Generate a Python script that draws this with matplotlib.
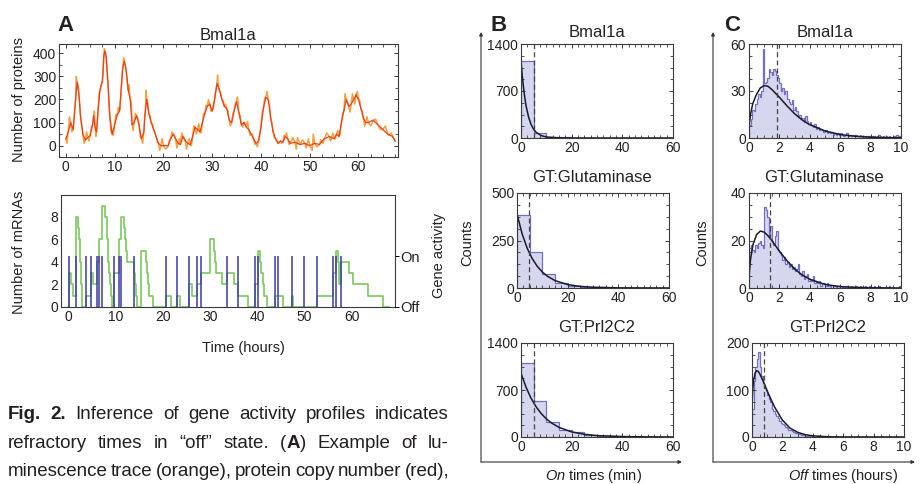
import matplotlib
matplotlib.use("Agg")
import matplotlib.pyplot as plt
import matplotlib.transforms as mtransforms
from matplotlib.patches import FancyArrowPatch
from matplotlib.ticker import MultipleLocator
import numpy as np

W, H = 923, 484
plt.rcParams['font.family'] = ['Liberation Sans', 'DejaVu Sans']
plt.rcParams['mathtext.fontset'] = 'custom'
plt.rcParams['mathtext.it'] = 'Liberation Sans:italic'
plt.rcParams['mathtext.rm'] = 'Liberation Sans'

# ---- panel A: protein trace (red = smoothed, orange = luminescence) ----
red_t = [0, 0.5, 1.0, 1.5, 2.0, 2.3, 2.7, 3.0, 3.5, 4.0, 4.5, 5.0, 5.5, 5.7, 6.0, 6.3, 6.6, 7.0,
         7.5, 7.8, 8.0, 8.3, 8.7, 9.0, 9.5, 10.0, 10.5, 11.0, 11.3, 11.7, 12.0, 12.4, 12.8, 13.2,
         13.6, 14.0, 14.5, 15.0, 15.5, 16.0, 16.3, 16.6, 17.0, 17.5, 18.0, 18.5, 19.0, 19.5, 20.0,
         21.0, 21.5, 22.0, 22.5, 23.0, 23.5, 24.0, 24.5, 25.0, 25.5, 26.0, 26.5, 27.0, 27.5, 28.0,
         28.5, 29.0, 29.5, 30.0, 30.5, 31.0, 31.5, 32.0, 32.5, 33.0, 33.5, 34.0, 34.5, 35.0, 35.5,
         36.0, 36.5, 37.0, 37.5, 38.0, 38.5, 39.0, 39.5, 40.0, 40.5, 41.0, 41.5, 42.0, 42.5, 43.0,
         43.5, 44.0, 44.5, 45.0, 45.5, 46.0, 47.0, 48.0, 49.0, 50.0, 51.0, 52.0, 53.0, 54.0, 55.0,
         55.5, 56.0, 56.5, 57.0, 57.5, 58.0, 58.5, 59.0, 59.5, 60.0, 60.5, 61.0, 61.5, 62.0, 63.0,
         64.0, 65.0, 66.0, 67.0, 67.5]
red_v = [30, 60, 100, 70, 200, 275, 220, 130, 50, 25, 35, 45, 90, 130, 80, 60, 150, 240,
         280, 390, 410, 380, 250, 130, 50, 90, 130, 150, 230, 340, 365, 320, 240, 200,
         90, 100, 130, 90, 30, 60, 150, 200, 140, 100, 70, 40, 10, 0, 0,
         0, 30, 50, 30, 10, 5, 40, 20, 10, 5, 40, 80, 70, 60, 100,
         140, 170, 180, 150, 200, 270, 240, 200, 170, 160, 110, 100, 150, 190, 140,
         90, 100, 80, 70, 50, 30, 10, 20, 80, 160, 210, 200, 120, 60, 30,
         10, 20, 15, 40, 30, 10, 15, 5, 10, 0, 10, 5, 30, 40, 30,
         50, 40, 100, 150, 200, 170, 180, 200, 220, 200, 160, 120, 100, 100, 110,
         90, 70, 50, 40, 20]
noise_t = [0.25, 0.75, 1.25, 1.75, 2.15, 2.5, 3.25, 3.75, 4.25, 4.75, 5.25, 5.85, 6.15, 6.8,
           7.25, 7.65, 7.9, 8.15, 8.5, 8.85, 9.25, 9.75, 10.25, 10.75, 11.15, 11.5, 11.85, 12.2,
           12.6, 12.9, 13.4, 13.8, 14.25, 14.75, 15.25, 15.75, 16.15, 16.45, 16.8, 17.25, 17.75,
           18.25, 18.75, 19.25, 19.75, 20.5, 21.25, 21.75, 22.25, 22.75, 23.25, 23.75, 24.25,
           24.75, 25.25, 25.75, 26.25, 26.75, 27.25, 27.75, 28.25, 28.75, 29.25, 29.75, 30.25,
           30.75, 31.1, 31.25, 31.75, 32.25, 32.75, 33.25, 33.75, 34.25, 34.75, 35.2, 35.75,
           36.25, 36.75, 37.25, 37.75, 38.25, 38.75, 39.25, 39.75, 40.25, 40.75, 41.25, 41.75,
           42.25, 42.75, 43.25, 43.75, 44.25, 44.75, 45.25, 45.75, 46.5, 47.25, 47.5, 48.5,
           49.25, 49.75, 50.5, 50.75, 51.5, 52.25, 52.75, 53.5, 54.25, 54.75, 55.25, 55.75,
           56.25, 56.75, 57.25, 57.75, 58.25, 58.75, 59.25, 59.75, 60.25, 60.75, 61.25, 61.75,
           62.5, 63.5, 64.5, 65.5, 66.25, 66.75, 67.25]
noise_v = [10, 125, 60, 135, 300, 265, 85, 10, 60, 20, 85, 150, 40, 225,
           265, 320, 420, 405, 310, 185, 60, 45, 135, 165, 160, 300, 380, 350,
           270, 265, 190, 65, 140, 120, 40, 10, 125, 240, 185, 130, 95,
           60, 15, -20, 30, -15, 25, 60, 45, -10, 30, 55, 35,
           -15, 30, 0, 85, 50, 95, 55, 140, 175, 200, 150, 160,
           240, 305, 265, 225, 195, 180, 150, 85, 140, 185, 210, 130,
           80, 100, 105, 45, 50, 5, -5, 45, 140, 205, 235, 175,
           100, 35, 25, 15, 10, 45, 55, 5, 35, -15, 35, 25,
           -10, 30, -20, 50, -5, 25, 10, 55, 20, 55, 30, 65,
           50, 140, 225, 190, 145, 225, 180, 235, 195, 150, 85, 125,
           85, 115, 70, 85, 45, 55, 30]

# ---- panel A: mRNA steps and gene "on" events ----
mrna_t = [0.0, 0.1, 0.6, 1.0, 1.6, 2.0, 2.2, 2.4, 2.6, 2.8, 3.7, 4.8, 5.3, 6.0, 6.5, 7.2, 7.8,
          8.1, 8.3, 8.5, 8.7, 8.9, 9.1, 9.3, 9.7, 10.7, 11.2, 11.8, 12.0, 12.2, 12.4, 13.9,
          14.2, 14.4, 14.6, 15.5, 16.4, 16.6, 16.8, 17.0, 17.9, 20.7, 21.7, 23.1, 23.7, 25.5,
          26.3, 27.2, 28.2, 30.0, 30.8, 31.0, 31.3, 32.5, 33.6, 35.0, 35.9, 38.1, 39.5, 40.2,
          40.6, 40.9, 41.2, 41.5, 42.1, 43.7, 45.4, 47.3, 47.6, 52.7, 56.0, 56.7, 57.1, 57.4,
          57.7, 59.5, 60.2, 63.5, 66.7, 68.0]
mrna_v = [0, 3, 2, 1, 8, 7, 6, 4, 2, 0, 1, 3, 2, 4, 6, 9, 8,
          6, 5, 4, 3, 2, 1, 0, 3, 6, 8, 7, 6, 5, 4, 3,
          2, 1, 0, 5, 4, 3, 2, 1, 0, 1, 0, 1, 0, 2,
          1, 2, 3, 6, 5, 4, 3, 2, 3, 2, 1, 0, 2, 5,
          4, 3, 2, 1, 0, 1, 0, 1, 0, 1, 3, 5, 4, 2,
          4, 3, 2, 1, 0, 0]
on_times = [0.15, 1.6, 3.7, 4.8, 6.0, 6.5, 7.2, 9.7, 10.7, 11.2, 13.9, 20.7, 23.1, 25.5, 27.2,
            28.2, 33.6, 35.9, 39.5, 40.2, 43.7, 44.5, 47.3, 50.0, 52.7, 56.0, 56.7, 57.7]
on_level = 4.5

# ---- panel B: on-time histograms (5 min bins) and exponential fits ----
b_edges = [0, 5, 10, 15, 20, 25, 30, 35, 40, 45, 50, 55, 60]
b_counts = {
    'Bmal1a':         [1150, 70, 18, 8, 0, 0, 0, 0, 0, 0, 0, 0],
    'GT:Glutaminase': [385, 190, 75, 25, 8, 4, 3, 2, 1, 1, 0, 0],
    'GT:Prl2C2':      [1100, 530, 230, 110, 70, 30, 15, 10, 5, 3, 0, 0],
}
b_fit_x = {
    'Bmal1a':         [0, 0.5, 1, 1.5, 2, 3, 4, 5, 6, 8, 10, 15, 20, 60],
    'GT:Glutaminase': [0, 2, 4, 6, 8, 10, 12, 15, 20, 25, 30, 40, 60],
    'GT:Prl2C2':      [0, 2, 4, 6, 8, 10, 12, 15, 20, 25, 30, 40, 50, 60],
}
b_fit_y = {
    'Bmal1a':         [1150, 925, 750, 600, 480, 310, 200, 130, 85, 36, 15, 2, 0, 0],
    'GT:Glutaminase': [390, 286, 210, 155, 114, 84, 62, 39, 18, 8.5, 4, 0.8, 0],
    'GT:Prl2C2':      [950, 740, 575, 447, 348, 270, 210, 143, 76, 40, 21, 6, 2, 0],
}
b_mean = {'Bmal1a': 5.0, 'GT:Glutaminase': 4.8, 'GT:Prl2C2': 5.0}
b_ymax = {'Bmal1a': 1400, 'GT:Glutaminase': 500, 'GT:Prl2C2': 1400}

# ---- panel C: off-time histograms (0.1 h bins) and fits ----
c_bin = 0.1
c_counts = {
    'Bmal1a': [8, 12, 18, 17, 22, 25, 28, 26, 30, 57,
               35, 36, 38, 44, 42, 40, 44, 43, 40, 38,
               35, 30, 32, 28, 30, 25, 23, 22, 24, 18,
               20, 17, 14, 15, 12, 13, 10, 14, 11, 9,
               10, 8, 7, 9, 6, 7, 5, 6, 5, 4,
               5, 3, 4, 3, 4, 2, 3, 2, 3, 2,
               3, 2, 1, 2, 3, 1, 2, 1, 2, 1,
               2, 1, 1, 2, 1, 1, 0, 1, 1, 1,
               0, 1, 1, 0, 1, 2, 1, 0, 1, 0,
               1, 0, 1, 0, 0, 1, 0, 2, 0, 1],
    'GT:Glutaminase': [17, 18, 16, 15, 18, 17, 19, 20, 18, 17,
                       34, 33, 30, 22, 26, 20, 18, 22, 24, 16,
                       15, 14, 12, 13, 10, 11, 9, 10, 8, 9,
                       7, 8, 10, 6, 5, 7, 4, 5, 6, 3,
                       4, 3, 5, 2, 3, 2, 3, 1, 2, 2,
                       1, 2, 1, 1, 0, 1, 1, 0, 1, 1,
                       0, 1, 0, 1, 1, 0, 0, 1, 0, 0,
                       1, 0, 0, 1, 0, 0, 1, 0, 0, 1,
                       0, 0, 1, 0, 0, 1, 0, 0, 0, 0,
                       0, 0, 1, 0, 0, 0, 0, 0, 0, 1],
    'GT:Prl2C2': [60, 120, 150, 165, 180, 150, 130, 115, 105, 100,
                  90, 80, 75, 60, 55, 50, 45, 40, 35, 30,
                  28, 25, 22, 20, 15, 14, 12, 10, 9, 8,
                  7, 6, 5, 5, 4, 3, 3, 2, 2, 2,
                  2, 1, 1, 2, 1, 1, 1, 0, 1, 1,
                  0, 1, 0, 0, 1, 0, 0, 0, 1, 0,
                  0, 0, 0, 1, 0, 0, 0, 0, 0, 0,
                  0, 1, 0, 0, 0, 0, 0, 0, 0, 0,
                  0, 0, 0, 0, 0, 0, 0, 0, 0, 0,
                  0, 0, 0, 0, 0, 0, 0, 0, 0, 0],
}
c_fit_x = {
    'Bmal1a': [0, 0.1, 0.25, 0.5, 0.75, 1.0, 1.25, 1.5, 2, 2.5, 3, 3.5, 4, 5, 6, 7, 8, 9, 10],
    'GT:Glutaminase': [0, 0.1, 0.25, 0.5, 0.75, 1.0, 1.25, 1.5, 2, 2.5, 3, 3.5, 4, 5, 6, 7, 8, 10],
    'GT:Prl2C2': [0, 0.05, 0.1, 0.2, 0.3, 0.4, 0.5, 0.75, 1, 1.25, 1.5, 2, 2.5, 3, 3.5, 4, 5, 6, 10],
}
c_fit_y = {
    'Bmal1a': [7, 15, 22, 28, 32, 33.5, 33, 31, 26, 20.5, 15.5, 11.5, 8.5, 4.5, 2.2, 1.1, 0.5, 0.25, 0.1],
    'GT:Glutaminase': [5, 12, 18, 22.5, 24, 23.5, 22, 20, 15.5, 11.5, 8, 5.5, 3.7, 1.5, 0.6, 0.25, 0.1, 0],
    'GT:Prl2C2': [60, 100, 120, 136, 141, 140, 135, 118, 98, 80, 63, 36, 19, 10, 5, 2.5, 0.5, 0.1, 0],
}
c_mean = {'Bmal1a': 1.85, 'GT:Glutaminase': 1.4, 'GT:Prl2C2': 0.8}
c_ymax = {'Bmal1a': 60, 'GT:Glutaminase': 40, 'GT:Prl2C2': 200}

genes = ['Bmal1a', 'GT:Glutaminase', 'GT:Prl2C2']

caption = [
    "*Fig.* *2.* Inference of gene activity profiles indicates",
    "refractory times in \u201coff\u201d state. (*A*) Example of lu-",
    "minescence trace (orange), protein copy number (red),",
    "mRNA copy number (green), and gene activity inferred",
]

ORANGE = '#F7A03C'
RED = '#E8401E'
GREEN = '#7CC95E'
BLUE = '#3B3BA6'
FILL = '#D6D6EE'
EDGE = '#7070C4'
INK = '#222222'

fig = plt.figure(figsize=(W / 100, H / 100), dpi=100)


def box(l, t, r, b):
    return fig.add_axes([l / W, 1 - b / H, (r - l) / W, (b - t) / H])


def ftext(x, y, s, **kw):
    kw.setdefault('color', INK)
    return fig.text(x / W, 1 - y / H, s, **kw)


def style(ax, xminor=None, yminor=None, ticks=True):
    for s in ax.spines.values():
        s.set_linewidth(0.8)
        s.set_color('#3a3a3a')
    ax.tick_params(which='both', direction='in', top=ticks, right=ticks,
                   labelsize=10, labelcolor=INK, color='#3a3a3a', pad=2)
    ax.tick_params(which='major', length=3 if ticks else 0, width=0.7)
    ax.tick_params(which='minor', length=2, width=0.6)
    if xminor:
        ax.xaxis.set_minor_locator(MultipleLocator(xminor))
    if yminor:
        ax.yaxis.set_minor_locator(MultipleLocator(yminor))


# ---------- A top ----------
axp = box(59, 44, 398, 157)
ot = np.concatenate([red_t, noise_t])
ov = np.concatenate([red_v, noise_v])
order = np.argsort(ot)
axp.plot(ot[order], ov[order], color=ORANGE, lw=1.1)
axp.plot(red_t, red_v, color=RED, lw=0.9)
axp.set_xlim(-1.4, 68.1)
axp.set_ylim(-49, 440)
axp.set_xticks([0, 10, 20, 30, 40, 50, 60])
axp.set_yticks([0, 100, 200, 300, 400])
style(axp, 2.5, 50)
ftext(228, 40, 'Bmal1a', fontsize=12, ha='center', va='baseline')
ftext(19, 100, 'Number of proteins', fontsize=10.5, rotation=90, ha='center', va='center')
ftext(65, 31, 'A', fontsize=16, fontweight='bold', ha='center', va='baseline')

# ---------- A bottom ----------
axm = box(61, 195, 395, 307)
axm.step(mrna_t, mrna_v, where='post', color=GREEN, lw=1.2)
axm.vlines(on_times, 0, on_level, color=BLUE, lw=1.1)
axm.set_xlim(-1.55, 69.2)
axm.set_ylim(0, 9.95)
axm.set_xticks([0, 10, 20, 30, 40, 50, 60])
axm.set_yticks([0, 2, 4, 6, 8])
style(axm, ticks=False)
axr = axm.twinx()
axr.set_ylim(axm.get_ylim())
axr.set_yticks([0, on_level])
axr.set_yticklabels(['Off', 'On'])
axr.tick_params(direction='out', length=3, width=0.7, labelsize=10.5, labelcolor=INK, pad=1)
for s in axr.spines.values():
    s.set_visible(False)
ftext(19, 252, 'Number of mRNAs', fontsize=10.5, rotation=90, ha='center', va='center')
ftext(439, 255, 'Gene activity', fontsize=10.5, rotation=90, ha='center', va='center')
ftext(243, 348, 'Time (hours)', fontsize=10.5, ha='center', va='center')

# ---------- B ----------
b_boxes = [(521, 44, 673, 138), (517, 193, 669, 288), (521, 343, 673, 437)]
b_title = [(597, 37), (592, 182), (597, 332)]
for g, bb, tt in zip(genes, b_boxes, b_title):
    ax = box(*bb)
    ax.stairs(b_counts[g], b_edges, fill=True, color=FILL, lw=0)
    ax.stairs(b_counts[g], b_edges, color=EDGE, lw=0.9)
    ax.plot(b_fit_x[g], b_fit_y[g], color='#1a1a2a', lw=1.1)
    ax.axvline(b_mean[g], color='#444444', lw=0.9, ls=(0, (4, 2.5)))
    ax.set_xlim(0, 60)
    ax.set_ylim(0, b_ymax[g])
    ax.set_xticks([0, 20, 40, 60])
    ax.set_yticks([0, b_ymax[g] / 2, b_ymax[g]])
    ax.set_yticklabels(['0', '%d' % (b_ymax[g] / 2), '%d' % b_ymax[g]])
    style(ax, 2.5, b_ymax[g] / 8)
    ftext(tt[0], tt[1], g, fontsize=12, ha='center', va='baseline')
ftext(467, 243, 'Counts', fontsize=10.5, rotation=90, ha='center', va='center')
ftext(593, 476, r'$\mathit{On}$ times (min)', fontsize=10.5, ha='center', va='center')
ftext(499, 31, 'B', fontsize=16, fontweight='bold', ha='center', va='baseline')

# ---------- C ----------
c_boxes = [(749, 44, 901, 138), (749, 193, 901, 288), (752, 343, 904, 437)]
c_title = [(825, 37), (824, 182), (828, 332)]
for g, bb, tt in zip(genes, c_boxes, c_title):
    ax = box(*bb)
    edges = np.arange(len(c_counts[g]) + 1) * c_bin
    ax.stairs(c_counts[g], edges, fill=True, color=FILL, lw=0)
    ax.stairs(c_counts[g], edges, color=EDGE, lw=0.9)
    ax.plot(c_fit_x[g], c_fit_y[g], color='#1a1a2a', lw=1.1)
    ax.axvline(c_mean[g], color='#444444', lw=0.9, ls=(0, (4, 2.5)))
    ax.set_xlim(0, 10)
    ax.set_ylim(0, c_ymax[g])
    ax.set_xticks([0, 2, 4, 6, 8, 10])
    ax.set_yticks([0, c_ymax[g] / 2, c_ymax[g]])
    ax.set_yticklabels(['0', '%d' % (c_ymax[g] / 2), '%d' % c_ymax[g]])
    style(ax, 0.5, c_ymax[g] / 8)
    ftext(tt[0], tt[1], g, fontsize=12, ha='center', va='baseline')
ftext(702, 243, 'Counts', fontsize=10.5, rotation=90, ha='center', va='center')
ftext(843, 476, r'$\mathit{Off}$ times (hours)', fontsize=10.5, ha='center', va='center')
ftext(732, 31, 'C', fontsize=16, fontweight='bold', ha='center', va='baseline')

# frame arrows around B and C
for x0, x1 in [(481, 682), (713, 915)]:
    for a, b in [((x0, 462), (x0, 32)), ((x0, 462), (x1, 462))]:
        fig.add_artist(FancyArrowPatch((a[0] / W, 1 - a[1] / H), (b[0] / W, 1 - b[1] / H),
                                       transform=fig.transFigure, arrowstyle='-|>',
                                       mutation_scale=5, lw=0.8, color='#333333',
                                       shrinkA=0, shrinkB=0))

# ---------- caption (justified) ----------
CAP_FONT = ['Liberation Sans Narrow', 'Liberation Sans', 'DejaVu Sans']
renderer = fig.canvas.get_renderer()
ident = mtransforms.IdentityTransform()
CAP_X0, CAP_X1 = 8, 449


def make_words(text, size):
    groups, widths = [], []
    for word in text.split(' '):
        parts = word.split('*')
        items, wsum = [], 0
        for i, p in enumerate(parts):
            if not p:
                continue
            t = fig.text(0, 0, p, fontsize=size, family=CAP_FONT,
                         fontweight='bold' if i % 2 else 'normal',
                         color='#231f20', transform=ident, va='baseline')
            w = t.get_window_extent(renderer).width
            items.append((t, w))
            wsum += w
        groups.append(items)
        widths.append(wsum)
    return groups, widths


def fits(size):
    ok = True
    for line in caption[:3]:
        groups, widths = make_words(line, size)
        if sum(widths) + (len(groups) - 1) * size * 0.22 > CAP_X1 - CAP_X0:
            ok = False
        for items in groups:
            for t, w in items:
                t.remove()
    return ok


cap_size = 15.5
while cap_size > 9 and not fits(cap_size):
    cap_size -= 0.25

cap_bases = [419, 448, 476, 504]
for line, yb in zip(caption, cap_bases):
    groups, widths = make_words(line, cap_size)
    gap = (CAP_X1 - CAP_X0 - sum(widths)) / (len(groups) - 1)
    x = CAP_X0
    for items in groups:
        for t, w in items:
            t.set_position((x, H - yb))
            x += w
        x += gap

fig.savefig('out.png', dpi=100)
